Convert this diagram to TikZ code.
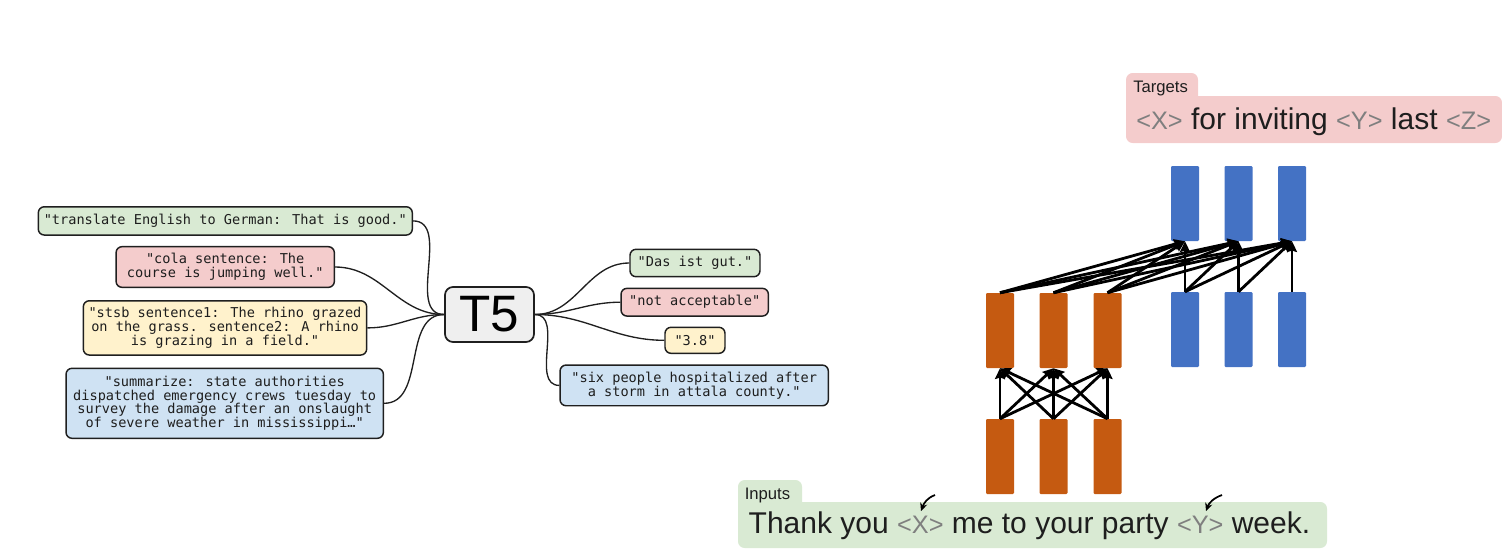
\documentclass[tikz,border=0pt]{standalone}
\usepackage{fontspec}
\setmainfont{Liberation Sans}
\newfontfamily\monof{DejaVu Sans Mono}
\usetikzlibrary{arrows.meta}
\definecolor{cgreen}{HTML}{D9EAD3}
\definecolor{cred}{HTML}{F4CCCC}
\definecolor{cyellow}{HTML}{FFF2CC}
\definecolor{cblue}{HTML}{CFE2F3}
\definecolor{cgray}{HTML}{EFEFEF}
\definecolor{edge}{HTML}{1F1F1F}
\definecolor{encc}{HTML}{C55A11}
\definecolor{decc}{HTML}{4472C4}
\definecolor{tokgray}{HTML}{7F7F7F}
\definecolor{txt}{HTML}{1E1E1E}
\newcommand\tokn[1]{{\color{tokgray}\fontsize{19}{19}\selectfont #1}}
\begin{document}
\begin{tikzpicture}[x=0.75pt,y=-0.75pt,
  tbox/.style={draw=edge, line width=1.1pt, rounded corners=4.5pt, inner sep=1pt,
    align=center, text=txt, font=\monof\fontsize{10.2}{10.4}\selectfont},
  link/.style={draw=edge, line width=1pt},
  enccol/.style={fill=encc, rounded corners=0.8pt, minimum width=21pt, minimum height=56.25pt, inner sep=0pt},
  deccol/.style={fill=decc, rounded corners=0.8pt, minimum width=21pt, minimum height=56.25pt, inner sep=0pt},
  att/.style={draw=black, line width=2.1pt, -{Stealth[length=8pt,width=7.5pt,inset=1pt]}},
  lbl/.style={anchor=base west, inner sep=0pt, text=txt, font=\fontsize{12.5}{12.5}\selectfont},
  big/.style={anchor=base west, inner sep=0pt, text=txt, font=\fontsize{22.5}{22.5}\selectfont},
  small/.style={draw=black, line width=1.3pt, -{Stealth[length=6pt,width=5.5pt]}},
]
\useasboundingbox (0,0) rectangle (1502,551);

% ---------------- left: T5 text-to-text ----------------
\node[tbox, fill=cgreen, minimum width=280.5pt, minimum height=21.2pt] (b1) at (225.3,220.9)
  {"translate English to German: That is good."};
\node[tbox, fill=cred, minimum width=163.7pt, minimum height=30.5pt] (b2) at (225.2,267)
  {"cola sentence: The\\course is jumping well."};
\node[tbox, fill=cyellow, minimum width=212.5pt, minimum height=40.7pt] (b3) at (225,327.9)
  {"stsb sentence1: The rhino grazed\\on the grass. sentence2: A rhino\\is grazing in a field."};
\node[tbox, fill=cblue, minimum width=238pt, minimum height=52.5pt] (b4) at (224.7,403.3)
  {"summarize: state authorities\\dispatched emergency crews tuesday to\\survey the damage after an onslaught\\of severe weather in mississippi…"};

\node[draw=edge, fill=cgray, line width=1.3pt, rounded corners=6pt, inner sep=0pt,
  minimum width=66.75pt, minimum height=41.25pt, text=black,
  font=\fontsize{38.4}{40}\selectfont] (t5) at (489.5,314.5) {T5};

\node[tbox, fill=cgreen, minimum width=97.5pt, minimum height=20.5pt] (r1) at (695,263) {"Das ist gut."};
\node[tbox, fill=cred, minimum width=110.5pt, minimum height=20.8pt] (r2) at (694.7,302.2) {"not acceptable"};
\node[tbox, fill=cyellow, minimum width=45pt, minimum height=19.5pt] (r3) at (695,340.3) {"3.8"};
\node[tbox, fill=cblue, minimum width=201.2pt, minimum height=30.5pt] (r4) at (694.2,385.4)
  {"six people hospitalized after\\a storm in attala county."};

\foreach \b in {b1,b2,b3,b4} \draw[link] (\b.east) to[out=0,in=180] (t5.west);
\foreach \r in {r1,r2,r3,r4} \draw[link] (t5.east) to[out=0,in=180] (\r.west);

% ---------------- right: span corruption ----------------
\fill[cred, rounded corners=5pt] (1126,73) rectangle (1198,110);
\fill[cred, rounded corners=5pt] (1126,96) rectangle (1502,143);
\node[lbl] (tgl) at (1133,92) {Targets};
\node[big] (tgt) at (1136,129.5) {\tokn{<X>} for inviting \tokn{<Y>} last \tokn{<Z>}};

\fill[cgreen, rounded corners=5pt] (738,480) rectangle (802,515);
\fill[cgreen, rounded corners=5pt] (738,502) rectangle (1327,548);
\node[lbl] (inl) at (744.5,499) {Inputs};
\node[big] (inp) at (748.4,533.3) {Thank you \tokn{<X>} me to your party \tokn{<Y>} week.};

\node[enccol] (e1) at (1000,456.5) {};
\node[enccol] (e2) at (1053.5,456.5) {};
\node[enccol] (e3) at (1107.5,456.5) {};
\node[enccol] (f1) at (1000,330.5) {};
\node[enccol] (f2) at (1053.5,330.5) {};
\node[enccol] (f3) at (1107.5,330.5) {};
\node[deccol] (d1) at (1185,329.5) {};
\node[deccol] (d2) at (1238.5,329.5) {};
\node[deccol] (d3) at (1292,329.5) {};
\node[deccol] (u1) at (1185,203.5) {};
\node[deccol] (u2) at (1238.5,203.5) {};
\node[deccol] (u3) at (1292,203.5) {};

\foreach \i in {1,2,3} \foreach \j in {1,2,3} \draw[att] (e\i.north) -- (f\j.south);
\foreach \i in {1,2,3} \foreach \j in {1,2,3} \draw[att] (f\i.north) -- (u\j.south);
\draw[att] (d1.north) -- (u1.south);
\draw[att] (d1.north) -- (u2.south);
\draw[att] (d1.north) -- (u3.south);
\draw[att] (d2.north) -- (u2.south);
\draw[att] (d2.north) -- (u3.south);
\draw[att] (d3.north) -- (u3.south);

\coordinate (a1s) at (935,495);
\coordinate (a1e) at (921,511);
\coordinate (a2s) at (1222,495);
\coordinate (a2e) at (1206,511);
\draw[small] (a1s) to[out=200,in=70] (a1e);
\draw[small] (a2s) to[out=200,in=70] (a2e);
\end{tikzpicture}
\end{document}
